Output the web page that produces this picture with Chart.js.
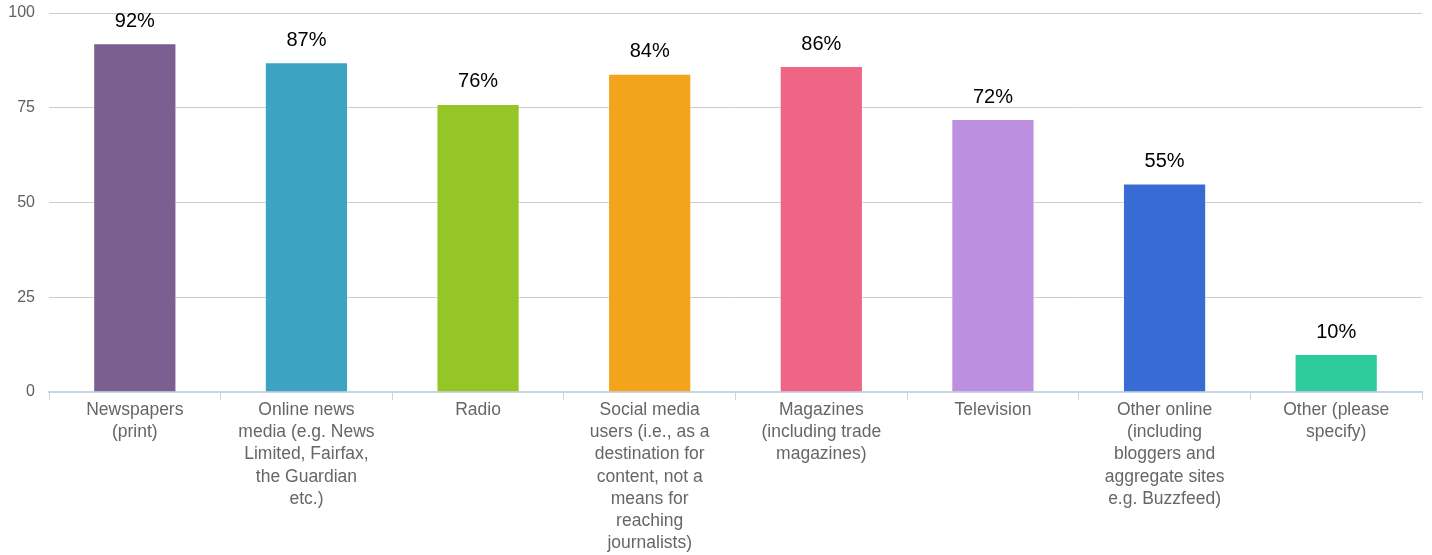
<!DOCTYPE html>
<html><head><meta charset="utf-8">
<script src="https://cdn.jsdelivr.net/npm/chart.js@4/dist/chart.umd.min.js"></script>
<style>html,body{margin:0;padding:0;background:#fff}#wrap{width:1432px;height:555px}</style>
</head><body><div id="wrap"><canvas id="c" width="1432" height="555"></canvas></div>
<script>
const categories = [
  ["Newspapers","(print)"],
  ["Online news","media (e.g. News","Limited, Fairfax,","the Guardian","etc.)"],
  ["Radio"],
  ["Social media","users (i.e., as a","destination for","content, not a","means for","reaching","journalists)"],
  ["Magazines","(including trade","magazines)"],
  ["Television"],
  ["Other online","(including","bloggers and","aggregate sites","e.g. Buzzfeed)"],
  ["Other (please","specify)"]
];
const values = [92, 87, 76, 84, 86, 72, 55, 10];
const barColors = ["#7b5f91","#3ea3c2","#94c726","#f4a41a","#ef6585","#bc8fe0","#386bd3","#2ecc9c"];
const yTicks = [0, 25, 50, 75, 100];

const labelPlugin = {
  id: 'valueLabels',
  afterDatasetsDraw(chart) {
    const ctx = chart.ctx;
    const meta = chart.getDatasetMeta(0);
    ctx.save();
    ctx.font = '20px "Liberation Sans", Arial, sans-serif';
    ctx.fillStyle = '#000';
    ctx.textAlign = 'center';
    ctx.textBaseline = 'bottom';
    meta.data.forEach((bar, i) => {
      ctx.fillText(values[i] + '%', bar.x, bar.y - 12);
    });
    ctx.restore();
  }
};

new Chart(document.getElementById('c'), {
  type: 'bar',
  data: {
    labels: categories,
    datasets: [{
      data: values,
      backgroundColor: barColors,
      borderColor: 'rgba(255,255,255,0.5)',
      borderWidth: 1,
      categoryPercentage: 1,
      barPercentage: 0.485
    }]
  },
  options: {
    responsive: false,
    animation: false,
    layout: { padding: { top: 13, right: 10, left: 0, bottom: 0 } },
    plugins: { legend: { display: false }, tooltip: { enabled: false } },
    scales: {
      y: {
        min: 0, max: 100,
        afterFit(s) { s.width = 49; s.paddingTop = 0; s.paddingBottom = 0; },
        afterBuildTicks(s) { s.ticks = yTicks.map(v => ({ value: v })); },
        grid: { color: '#cccccc', lineWidth: 1, drawTicks: false },
        border: { display: false },
        ticks: { color: '#606060', padding: 14, font: { family: '"Liberation Sans", Arial, sans-serif', size: 16 } }
      },
      x: {
        afterFit(s) { s.height = 163; s.paddingLeft = 0; s.paddingRight = 0; s.paddingTop = 0; s.paddingBottom = 0; },
        grid: { drawOnChartArea: false, drawTicks: true, tickLength: 8, color: '#c6d4e3', offset: true },
        border: { color: '#c6d4e3', width: 2 },
        ticks: { color: '#666', padding: -1, maxRotation: 0, autoSkip: false,
                 font: { family: '"Liberation Sans", Arial, sans-serif', size: 17.5, lineHeight: 1.27 } }
      }
    }
  },
  plugins: [labelPlugin]
});
</script>
</body></html>
